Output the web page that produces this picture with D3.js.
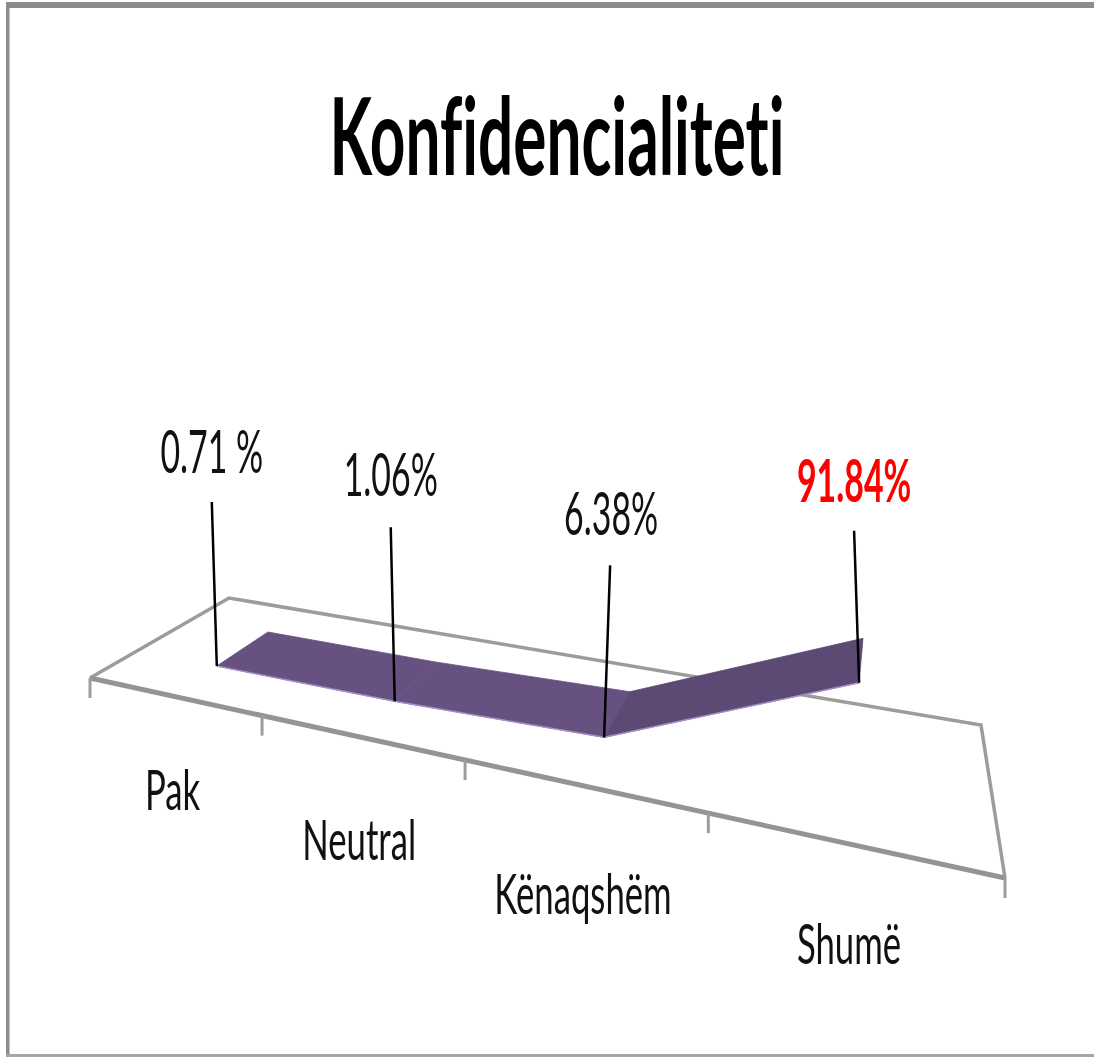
<!DOCTYPE html>
<html>
<head>
<meta charset="utf-8">
<script src="https://d3js.org/d3.v7.min.js"></script>
<style>
  html, body { margin: 0; padding: 0; background: #fff; }
  svg { display: block; filter: blur(0.5px); }
  text { font-family: Lato, "Open Sans", sans-serif; fill: #111; font-variant-ligatures: none; }
</style>
</head>
<body>
<div id="chart"></div>
<script>
// values
var categories = ["Pak", "Neutral", "Kënaqshëm", "Shumë"];
var values = [0.71, 1.06, 6.38, 91.84];
var valueLabels = ["0.71 %", "1.06%", "6.38%", "91.84%"];
var chartTitle = "Konfidencialiteti";

var width = 1094, height = 1057;

var svg = d3.select("#chart").append("svg")
  .attr("width", width)
  .attr("height", height);

// floor of the 3d chart: front left, front right, back right, back left
var corners = [[90, 678], [1005, 878], [981, 725], [229, 598]];

// unit square -> floor, plain homography
var sx = corners[0][0] - corners[1][0] + corners[2][0] - corners[3][0],
    sy = corners[0][1] - corners[1][1] + corners[2][1] - corners[3][1],
    dx1 = corners[1][0] - corners[2][0],
    dy1 = corners[1][1] - corners[2][1],
    dx2 = corners[3][0] - corners[2][0],
    dy2 = corners[3][1] - corners[2][1],
    det = dx1 * dy2 - dx2 * dy1,
    g = (sx * dy2 - dx2 * sy) / det,
    k = (dx1 * sy - sx * dy1) / det;

// x along the category axis
var x = d3.scaleBand().domain(categories).range([0, 1]);
// y is height above the floor, before perspective
var y = d3.scaleLinear().domain([0, 100]).range([0, 96.7]);
// depth of the ribbon on the floor
var depth = { front: 0.3, back: 0.7 };

function project(u, v, val) {
  var w = 1 + g * u + k * v;
  var px = (corners[0][0] + (corners[1][0] - corners[0][0] + g * corners[1][0]) * u + (corners[3][0] - corners[0][0] + k * corners[3][0]) * v) / w;
  var py = (corners[0][1] + (corners[1][1] - corners[0][1] + g * corners[1][1]) * u + (corners[3][1] - corners[0][1] + k * corners[3][1]) * v) / w;
  var lift = y(val || 0) / w;
  // verticals lean a little to the right
  return [px + lift * 0.055, py - lift];
}

function mid(c) { return x(c) + x.bandwidth() / 2; }

// frame
svg.append("rect").attr("x", 6).attr("y", 2).attr("width", width - 6).attr("height", 6).attr("fill", "#8c8c8c");
svg.append("rect").attr("x", 6).attr("y", 2).attr("width", 3.5).attr("height", height - 2).attr("fill", "#8c8c8c");
svg.append("rect").attr("x", 6).attr("y", 1054).attr("width", width - 6).attr("height", 3).attr("fill", "#a6a6a6");

// floor
var line = d3.line();
svg.append("path")
  .attr("d", line([corners[1], corners[2], corners[3], corners[0]]))
  .attr("fill", "none")
  .attr("stroke", "#9c9c9c")
  .attr("stroke-width", 3.5);
svg.append("path")
  .attr("d", line([corners[0], corners[1]]))
  .attr("fill", "none")
  .attr("stroke", "#949494")
  .attr("stroke-width", 5);

// axis ticks
var tickPos = categories.map(function(c) { return x(c); }).concat([1]);
svg.selectAll(".tick")
  .data(tickPos)
  .join("line")
  .attr("class", "tick")
  .attr("x1", function(d) { return project(d, 0)[0]; })
  .attr("y1", function(d) { return project(d, 0)[1]; })
  .attr("x2", function(d) { return project(d, 0)[0]; })
  .attr("y2", function(d) { return project(d, 0)[1] + 20; })
  .attr("stroke", "#9c9c9c")
  .attr("stroke-width", 3);

// ribbon, one piece per segment
var segments = d3.pairs(categories.map(function(c, i) { return { u: mid(c), val: values[i] }; }));
svg.selectAll(".seg")
  .data(segments)
  .join("path")
  .attr("class", "seg")
  .attr("d", function(s) {
    return line([
      project(s[0].u, depth.front, s[0].val),
      project(s[1].u, depth.front, s[1].val),
      project(s[1].u, depth.back, s[1].val),
      project(s[0].u, depth.back, s[0].val)
    ]) + "Z";
  })
  .attr("fill", function(s, i) { return i < 2 ? "#675181" : "#5c4a75"; })
  .attr("stroke", function(s, i) { return i < 2 ? "#675181" : "#5c4a75"; })
  .attr("stroke-width", 0.8);

// lilac lower edge of the ribbon
svg.append("path")
  .attr("d", line(categories.map(function(c, i) { return project(mid(c), depth.front, values[i]); })))
  .attr("fill", "none")
  .attr("stroke", "#a48fc6")
  .attr("stroke-width", 1.5);

// leader lines and value labels, offsets from the ribbon point
var leaderTop = [[-5, -164], [-4, -174], [6, -172], [-5, -152]];
var labelOff = [[-5, -193], [-4, -205], [7, -202], [-5, -181]];

var points = categories.map(function(c, i) { return project(mid(c), depth.front, values[i]); });

svg.selectAll(".leader")
  .data(points)
  .join("line")
  .attr("class", "leader")
  .attr("x1", function(d) { return d[0]; })
  .attr("y1", function(d) { return d[1]; })
  .attr("x2", function(d, i) { return d[0] + leaderTop[i][0]; })
  .attr("y2", function(d, i) { return d[1] + leaderTop[i][1]; })
  .attr("stroke", "#000")
  .attr("stroke-width", 2.5);

svg.selectAll(".val")
  .data(points)
  .join("text")
  .attr("class", "val")
  .attr("transform", function(d, i) {
    return "translate(" + (d[0] + labelOff[i][0]) + "," + (d[1] + labelOff[i][1]) + ") scale(0.565,1)";
  })
  .attr("text-anchor", "middle")
  .attr("font-size", 60)
  .attr("font-weight", function(d, i) { return i == 3 ? 700 : 400; })
  .style("fill", function(d, i) { return i == 3 ? "#ff0000" : "#111"; })
  .text(function(d, i) { return valueLabels[i]; });

// category labels hang below the front edge
var catAt = [810, 860, 914, 964];
var catShift = [0, 0, 2, 0];
svg.selectAll(".cat")
  .data(categories)
  .join("text")
  .attr("class", "cat")
  .attr("transform", function(c, i) {
    return "translate(" + (project(mid(c), 0)[0] + catShift[i]) + "," + catAt[i] + ") scale(0.62,1)";
  })
  .attr("text-anchor", "middle")
  .attr("font-size", 56)
  .text(function(c) { return c; });

// title
svg.append("text")
  .attr("transform", "translate(557,175) scale(0.575,1)")
  .attr("text-anchor", "middle")
  .attr("font-size", 108)
  .attr("font-weight", 700)
  .style("fill", "#000")
  .text(chartTitle);
</script>
</body>
</html>
